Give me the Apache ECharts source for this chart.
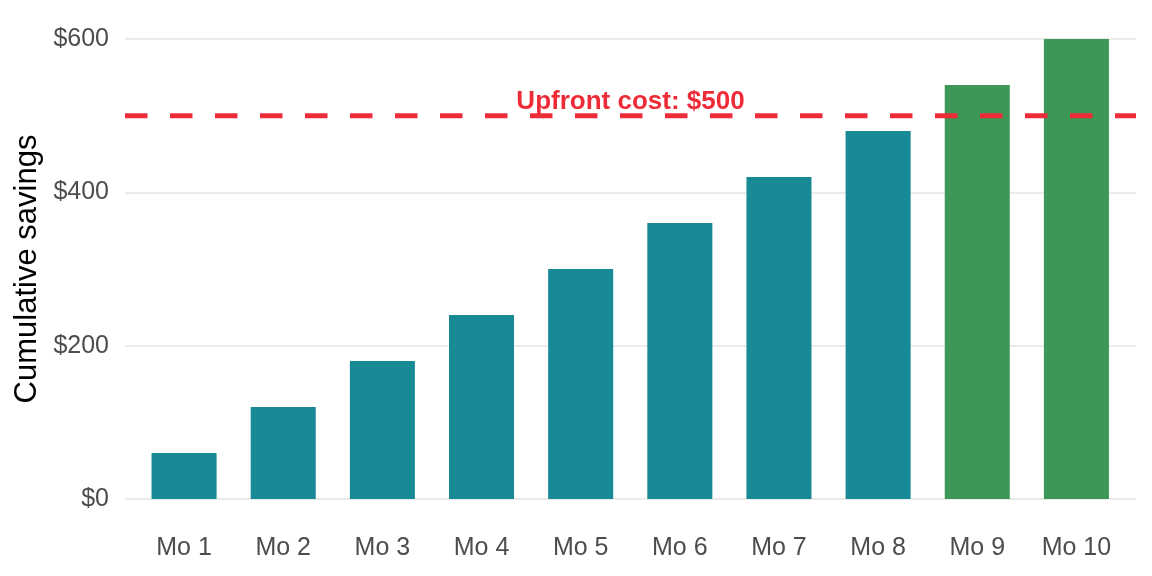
<!DOCTYPE html>
<html>
<head>
<meta charset="utf-8">
<script src="https://cdn.jsdelivr.net/npm/echarts@6/dist/echarts.min.js"></script>
<style>html,body{margin:0;padding:0;background:#fff}#c{width:1152px;height:576px}</style>
</head>
<body>
<div id="c"></div>
<script>
const months = ["Mo 1","Mo 2","Mo 3","Mo 4","Mo 5","Mo 6","Mo 7","Mo 8","Mo 9","Mo 10"];
const savings = [60,120,180,240,300,360,420,480,540,600];
const upfrontCost = 500;
const yTicks = [0,200,400,600];
const TEAL = "#178A96", GREEN = "#3D9757", RED = "#EE2C38";
const FONT = "Liberation Sans, Arial, Helvetica, sans-serif";

const chart = echarts.init(document.getElementById('c'), null, {renderer:'canvas'});
chart.setOption({
  animation:false,
  backgroundColor:'#fff',
  grid:[
    {left:134.5, right:26, top:39, bottom:77},
    {left:125, right:16, top:39, bottom:77}
  ],
  xAxis:[
    {type:'category', gridIndex:0, data:months, boundaryGap:true,
     axisLine:{show:false}, axisTick:{show:false}, splitLine:{show:false},
     axisLabel:{color:'#4d4d4d', fontSize:25, fontFamily:FONT, margin:37}},
    {type:'value', gridIndex:1, min:0, max:1, show:false}
  ],
  yAxis:[
    {type:'value', gridIndex:0, min:0, max:600, interval:200, show:false},
    {type:'value', gridIndex:1, min:0, max:600, interval:200,
     axisLine:{show:false}, axisTick:{show:false},
     splitLine:{show:true, lineStyle:{color:'#ebebeb', width:2}},
     axisLabel:{color:'#4d4d4d', fontSize:25, fontFamily:FONT, margin:16,
       formatter:v=> yTicks.includes(v) ? '$'+v : ''},
     name:'Cumulative savings', nameLocation:'middle', nameGap:80,
     nameTextStyle:{color:'#000', fontSize:31, fontFamily:FONT}}
  ],
  series:[
    {type:'bar', xAxisIndex:0, yAxisIndex:0, barWidth:'65.6%',
     data: savings.map(v=>({value:v, itemStyle:{color: v>upfrontCost?GREEN:TEAL}}))},
    {type:'line', xAxisIndex:1, yAxisIndex:1, symbol:'none', silent:true,
     data:[[0,upfrontCost],[1,upfrontCost]],
     lineStyle:{color:RED, width:5, type:[22.5,22.5]},
     markPoint:{symbol:'circle', symbolSize:0,
       data:[{coord:[0.5, upfrontCost]}],
       label:{show:true, position:'inside', offset:[0,-14], formatter:'Upfront cost: $'+upfrontCost,
         color:RED, fontWeight:'bold', fontSize:26, fontFamily:FONT}}}
  ]
});
</script>
</body>
</html>
